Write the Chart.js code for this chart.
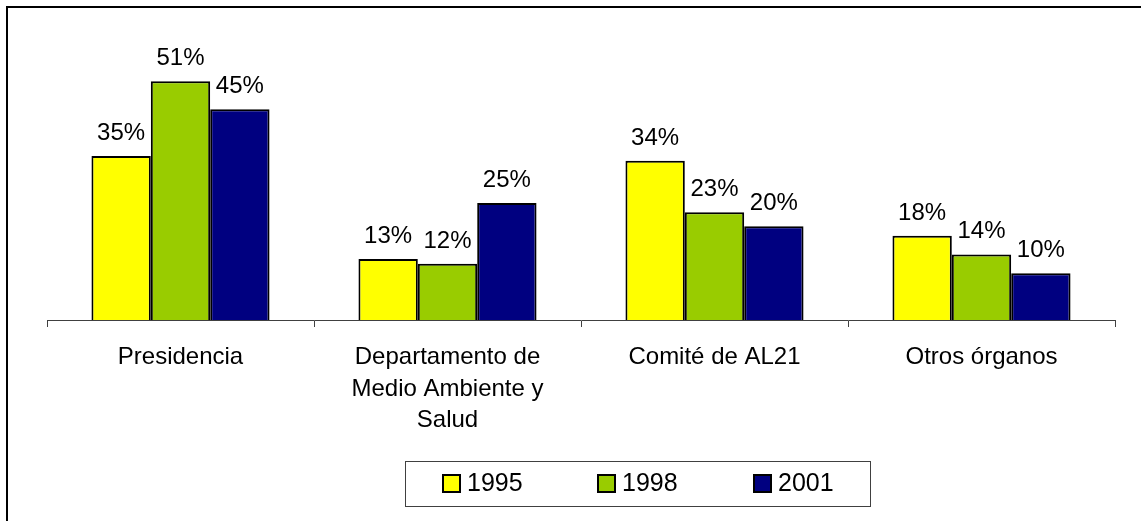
<!DOCTYPE html>
<html>
<head>
<meta charset="utf-8">
<script src="https://cdn.jsdelivr.net/npm/chart.js@4"></script>
<style>
html,body{margin:0;padding:0;background:#fff;}
#wrap{width:1141px;height:521px;position:relative;}
</style>
</head>
<body>
<div id="wrap"><canvas id="c" width="1141" height="521"></canvas></div>
<script>
const categories = ["Presidencia", ["Departamento de", "Medio Ambiente y", "Salud"], "Comité de AL21", "Otros órganos"];
const seriesNames = ["1995", "1998", "2001"];
const values1995 = [35, 13, 34, 18];
const values1998 = [51, 12, 23, 14];
const values2001 = [45, 25, 20, 10];
const seriesColors = ["#FFFF00", "#99CC00", "#000080"];

const FONT = "'Liberation Sans', Arial, sans-serif";

const framePlugin = {
  id: 'frame',
  afterDraw(chart) {
    const ctx = chart.ctx;
    ctx.save();
    ctx.strokeStyle = '#000';
    ctx.lineWidth = 2;
    ctx.beginPath();
    ctx.moveTo(7, 521);
    ctx.lineTo(7, 7);
    ctx.lineTo(1141, 7);
    ctx.stroke();
    ctx.restore();
  }
};

const labelPlugin = {
  id: 'barLabels',
  afterDatasetsDraw(chart) {
    const ctx = chart.ctx;
    ctx.save();
    ctx.font = "24px " + FONT;
    ctx.fillStyle = '#000';
    ctx.textAlign = 'center';
    ctx.textBaseline = 'alphabetic';
    chart.data.datasets.forEach((ds, di) => {
      const meta = chart.getDatasetMeta(di);
      meta.data.forEach((el, i) => {
        ctx.fillText(ds.data[i] + '%', el.x, el.y - 16);
      });
    });
    ctx.restore();
  }
};

const legendPlugin = {
  id: 'customLegend',
  afterDraw(chart) {
    const ctx = chart.ctx;
    ctx.save();
    ctx.strokeStyle = '#404040';
    ctx.lineWidth = 1;
    ctx.strokeRect(405.5, 461.5, 465, 45);
    ctx.font = "25px " + FONT;
    ctx.textBaseline = 'middle';
    ctx.textAlign = 'left';
    const xs = [443, 598, 754];
    chart.data.datasets.forEach((ds, di) => {
      const x = xs[di];
      ctx.fillStyle = ds.backgroundColor;
      ctx.fillRect(x, 475, 17, 17);
      ctx.strokeStyle = '#000';
      ctx.lineWidth = 2;
      ctx.strokeRect(x, 475, 17, 17);
      ctx.fillStyle = '#000';
      ctx.fillText(ds.label, x + 24, 484.5);
    });
    ctx.restore();
  }
};

const seriesValues = [values1995, values1998, values2001];
const datasets = seriesNames.map((n, i) => ({
  label: n,
  data: seriesValues[i],
  backgroundColor: seriesColors[i],
  borderColor: '#000',
  borderWidth: 2,
  borderSkipped: 'bottom',
  categoryPercentage: 0.667,
  barPercentage: 1.0
}));

new Chart(document.getElementById('c'), {
  type: 'bar',
  data: { labels: categories, datasets },
  options: {
    responsive: false,
    animation: false,
    devicePixelRatio: 1,
    layout: { padding: { left: 47, right: 26, top: 39, bottom: 0 } },
    plugins: { legend: { display: false }, tooltip: { enabled: false } },
    scales: {
      x: {
        afterFit(scale) { scale.height = 201; },
        grid: { display: true, drawOnChartArea: false, drawTicks: true, tickLength: 7, color: '#404040', offset: true },
        border: { display: true, color: '#404040', width: 1 },
        ticks: {
          color: '#000', font: { family: FONT, size: 24, lineHeight: 1.31 },
          maxRotation: 0, autoSkip: false, padding: 15
        }
      },
      y: {
        display: false, min: 0, max: 60,
        afterFit(scale) { scale.width = 0; }
      }
    }
  },
  plugins: [framePlugin, labelPlugin, legendPlugin]
});
</script>
</body>
</html>
